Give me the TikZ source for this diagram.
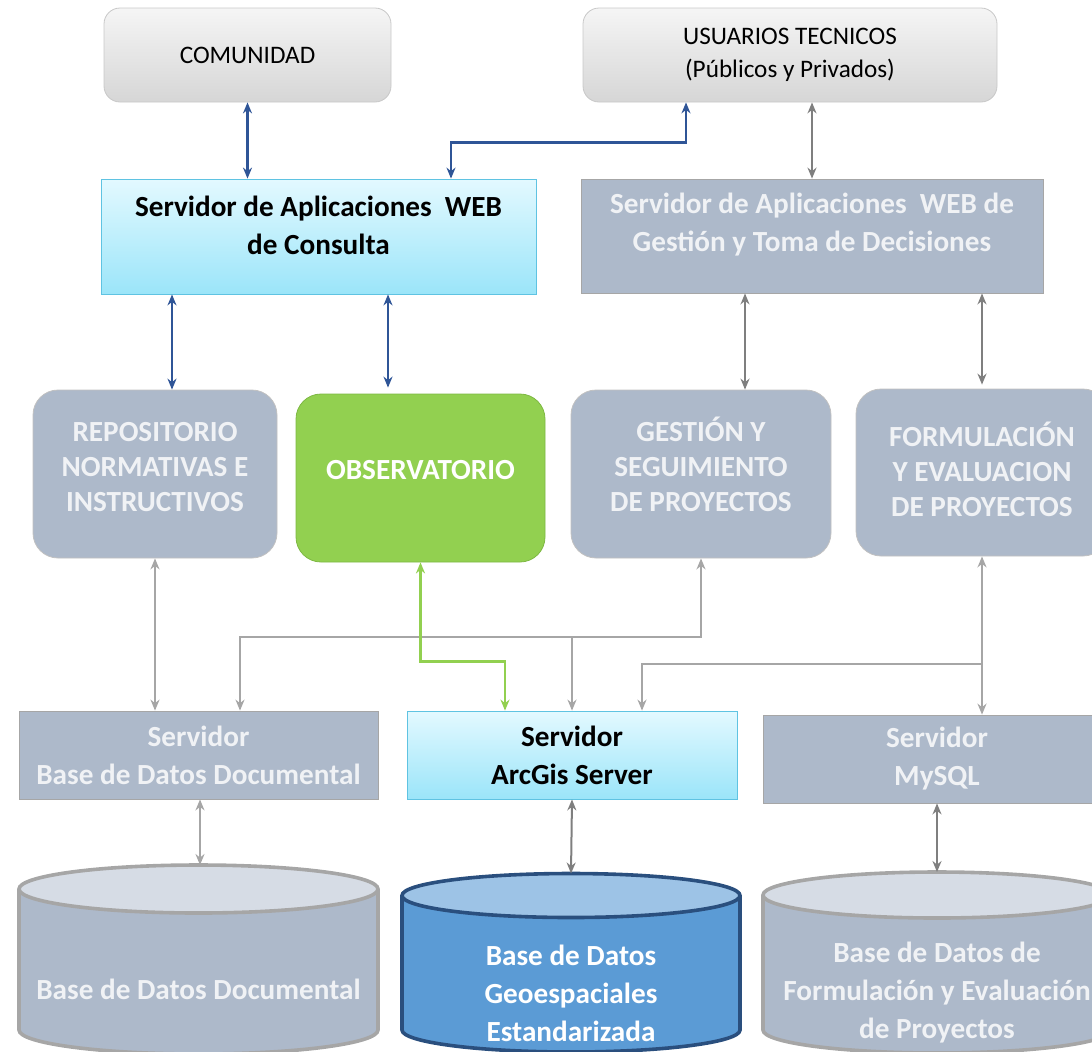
\documentclass[tikz,border=0pt]{standalone}
\usepackage{fontspec}
\setmainfont{Carlito}
\usepackage{xcolor}
\usetikzlibrary{positioning, arrows.meta}

\definecolor{usertop}{HTML}{F5F5F5}
\definecolor{userbot}{HTML}{D6D6D6}
\definecolor{userline}{HTML}{C8C8C8}
\definecolor{cyantop}{HTML}{E3F9FF}
\definecolor{cyanbot}{HTML}{9BE5F9}
\definecolor{cyanline}{HTML}{5FC3E2}
\definecolor{boxgray}{HTML}{ADB9CA}
\definecolor{boxline}{HTML}{A6A6A6}
\definecolor{txtgray}{HTML}{F0F2F5}
\definecolor{obsgreen}{HTML}{92D050}
\definecolor{obsline}{HTML}{7DB842}
\definecolor{lineblue}{HTML}{2F5597}
\definecolor{linedark}{HTML}{7F7F7F}
\definecolor{linelight}{HTML}{A6A6A6}
\definecolor{geobody}{HTML}{5B9BD5}
\definecolor{geotop}{HTML}{9DC3E6}
\definecolor{geoline}{HTML}{2A4F7E}
\definecolor{dbtop}{HTML}{D6DCE5}

\begin{document}
\begin{tikzpicture}[
        x=0.5pt, y=-0.5pt,
        >={Stealth[length=5.5pt, width=4.5pt]},
        font=\fontsize{14.6}{19}\selectfont\bfseries,
        % boxes of the top row
        userbox/.style={
            rectangle, rounded corners=8pt, draw=userline, thin,
            top color=usertop, bottom color=userbot,
            align=center, text=black,
            font=\fontsize{12.6}{16.5}\selectfont
        },
        cyanbox/.style={
            rectangle, draw=cyanline, thin,
            top color=cyantop, bottom color=cyanbot,
            align=center, text=black
        },
        srvbox/.style={
            rectangle, draw=boxline, thin, fill=boxgray,
            align=center, text=txtgray
        },
        modbox/.style={
            rectangle, rounded corners=12.5pt, draw=boxline!70, thin,
            fill=boxgray, align=center, text=txtgray,
            font=\fontsize{14.6}{17.5}\selectfont\bfseries
        },
        dbwall/.style={line width=1.8pt},
        dbtext/.style={align=center, text=txtgray},
        blueline/.style={<->, draw=lineblue, line width=1.2pt},
        darkline/.style={draw=linedark, line width=1pt},
        lightline/.style={draw=linelight, line width=1.2pt},
        greenline/.style={draw=obsgreen, line width=1.2pt}
    ]
    \useasboundingbox (0,0) rectangle (1092,1051);

    % ==========================
    % TOP ROW
    % ==========================
    \node[userbox, minimum width=143.5pt, minimum height=47pt] (comunidad) at (247.5, 55) {COMUNIDAD};
    \node[userbox, minimum width=207pt, minimum height=47pt] (usuarios) at (790, 55) {USUARIOS TECNICOS\\(Públicos y Privados)};

    \node[cyanbox, text depth=11pt, minimum width=217.5pt, minimum height=57.5pt] (consulta) at (318.5, 236.5)
        {Servidor de Aplicaciones\ \ WEB\\de Consulta};
    \node[srvbox, text depth=14pt, minimum width=231pt, minimum height=57pt] (gestsrv) at (812, 236)
        {Servidor de Aplicaciones\ \ WEB de\\Gestión y Toma de Decisiones};

    % ==========================
    % MODULES
    % ==========================
    \node[modbox, text depth=7pt, minimum width=122pt, minimum height=84pt] (repos) at (155, 474)
        {REPOSITORIO\\NORMATIVAS E\\INSTRUCTIVOS};
    \node[modbox, text depth=8pt, draw=obsline, fill=obsgreen, text=white, minimum width=124.5pt, minimum height=84pt] (observ) at (420.5, 478)
        {OBSERVATORIO};
    \node[modbox, text depth=10pt, minimum width=130pt, minimum height=84pt] (gsp) at (701, 474)
        {GESTIÓN Y\\SEGUIMIENTO\\DE PROYECTOS};
    \node[modbox, text depth=3pt, minimum width=126pt, minimum height=83.5pt] (formul) at (982, 472.5)
        {FORMULACIÓN\\Y EVALUACION\\DE PROYECTOS};

    % ==========================
    % SERVERS
    % ==========================
    \node[srvbox, minimum width=179.5pt, minimum height=44pt] (svdoc) at (198.5, 755)
        {Servidor\\Base de Datos Documental};
    \node[cyanbox, minimum width=165pt, minimum height=44pt] (arcgis) at (572, 755)
        {Servidor\\ArcGis Server};
    \node[srvbox, minimum width=174pt, minimum height=44pt] (mysql) at (937, 759)
        {Servidor\\MySQL};

    % ==========================
    % DATABASES (cylinders)
    % ==========================
    % documental
    \fill[boxgray] (19,889) -- (19,1030) arc[start angle=180, end angle=360, x radius=89.75pt, y radius=12pt] -- (378,889) -- cycle;
    \draw[dbwall, boxline] (19,889) -- (19,1030) arc[start angle=180, end angle=360, x radius=89.75pt, y radius=12pt] -- (378,889);
    \filldraw[dbwall, draw=boxline, fill=dbtop] (198.5,889) ellipse [x radius=89.75pt, y radius=12pt];
    \coordinate (dbdoctop) at (198.5,865);

    % geoespacial
    \fill[geobody] (402,895.5) -- (402,1030) arc[start angle=180, end angle=360, x radius=84.5pt, y radius=11pt] -- (740,895.5) -- cycle;
    \draw[dbwall, geoline] (402,895.5) -- (402,1030) arc[start angle=180, end angle=360, x radius=84.5pt, y radius=11pt] -- (740,895.5);
    \filldraw[dbwall, draw=geoline, fill=geotop] (571,895.5) ellipse [x radius=84.5pt, y radius=11pt];
    \coordinate (dbgeotop) at (571,873.5);

    % formulacion
    \fill[boxgray] (763,895) -- (763,1030) arc[start angle=180, end angle=360, x radius=87pt, y radius=11.5pt] -- (1111,895) -- cycle;
    \draw[dbwall, boxline] (763,895) -- (763,1030) arc[start angle=180, end angle=360, x radius=87pt, y radius=11.5pt] -- (1111,895);
    \filldraw[dbwall, draw=boxline, fill=dbtop] (937,895) ellipse [x radius=87pt, y radius=11.5pt];
    \coordinate (dbformtop) at (937,872);

    \node[dbtext] (dbdoc) at (198.5, 989) {Base de Datos Documental};
    \node[dbtext, text=white] (dbgeo) at (571, 993) {Base de Datos\\Geoespaciales\\Estandarizada};
    \node[dbtext] (dbform) at (937, 993) {Base de Datos de\\Formulación y Evaluación\\de Proyectos};

    % ==========================
    % CONNECTIONS
    % ==========================
    \draw[blueline] (comunidad.south) -- (comunidad.south |- consulta.north);
    \draw[blueline] ([xshift=66.25pt]consulta.north) -- ++(0,-36) -| ([xshift=-52pt]usuarios.south);
    \draw[blueline] ([xshift=8.5pt]repos.north) -- ([xshift=8.5pt]repos.north |- consulta.south);
    \draw[blueline] ([xshift=-16.25pt, yshift=3pt]observ.north) -- ([xshift=-16.25pt]observ.north |- consulta.south);

    \draw[darkline, <->] (gestsrv.north) -- (gestsrv.north |- usuarios.south);
    \draw[darkline, <->] ([xshift=22pt]gsp.north) -- ([xshift=22pt]gsp.north |- gestsrv.south);
    \draw[darkline, <->] ([yshift=2pt]formul.north) -- (formul.north |- gestsrv.south);

    % module <-> server links
    \coordinate (jgsp) at (701, 637);
    \coordinate (jform) at (983, 664);
    \draw[lightline, <->] (repos.south) -- (repos.south |- svdoc.north);
    \draw[lightline, <->] (gsp.south) -- (jgsp) -| ([xshift=20.75pt]svdoc.north);
    \draw[lightline, ->] (arcgis.north |- jgsp) -- (arcgis.north);
    \draw[lightline, <->] (formul.south) -- (formul.south |- mysql.north);
    \draw[lightline, ->] (jform) -| ([xshift=35pt]arcgis.north);
    \draw[greenline, <->] (observ.south) -- ++(0,99) -| ([xshift=-33.5pt]arcgis.north);

    % server <-> database links
    \draw[lightline, <->] ([xshift=0.75pt]svdoc.south) -- ([xshift=0.75pt]dbdoctop);
    \draw[darkline, <->] (arcgis.south) -- (dbgeotop);
    \draw[darkline, <->] (mysql.south) -- (dbformtop);

\end{tikzpicture}
\end{document}
